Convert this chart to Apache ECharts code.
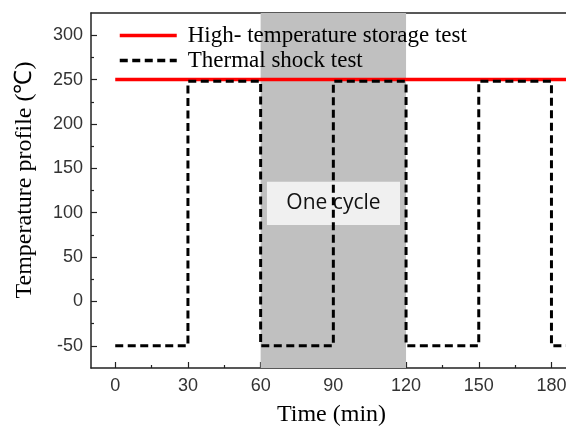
<!DOCTYPE html>
<html>
<head>
<meta charset="utf-8">
<script src="https://cdn.jsdelivr.net/npm/echarts@6/dist/echarts.min.js"></script>
<style>
  html, body { margin: 0; padding: 0; background: #fff; }
  #main { width: 566px; height: 426px; }
</style>
</head>
<body>
<div id="main"></div>
<script>
// tick values
var xTicks = [0, 30, 60, 90, 120, 150, 180];
var xMinor = [15, 45, 75, 105, 135, 165];
var yTicks = [-50, 0, 50, 100, 150, 200, 250, 300];
var yMinor = [-25, 25, 75, 125, 175, 225, 275];

// high-temperature storage: flat 250
var storageTime = [0, 190];
var storageTemp = [250, 250];

// thermal shock: square wave -50 / 250, 30 min steps
var shockTime = [0, 30, 30, 60, 60, 90, 90, 120, 120, 150, 150, 180, 180, 190];
var shockTemp = [-50, -50, 248, 248, -50, -50, 248, 248, -50, -50, 248, 248, -50, -50];

// one cycle band (min)
var cycle = [60, 120];

function pairs(xs, ys) {
    var out = [];
    for (var i = 0; i < xs.length; i++) out.push([xs[i], ys[i]]);
    return out;
}

var axisColor = '#222';
var labelFont = { color: '#333', fontSize: 18, fontFamily: 'Liberation Sans' };

var chart = echarts.init(document.getElementById('main'));
chart.setOption({
    animation: false,
    grid: { left: 91, right: 0, top: 13, bottom: 58, containLabel: false, outerBoundsMode: 'none' },
    legend: {
        orient: 'vertical',
        left: 113,
        top: 19,
        itemWidth: 57,
        itemHeight: 14,
        itemGap: 2,
        itemStyle: { opacity: 0 },
        lineStyle: { width: 3.5 },
        textStyle: { color: '#000', fontSize: 23, fontFamily: 'Liberation Serif', padding: [0, 0, 0, 6] },
        data: ['High- temperature storage test', 'Thermal shock test']
    },
    graphic: [{
        type: 'text',
        x: 25, y: 180,
        rotation: Math.PI / 2,
        style: {
            text: 'Temperature profile (\u2103)',
            fill: '#000', fontSize: 24, fontFamily: 'Liberation Serif',
            align: 'center', verticalAlign: 'middle'
        }
    }],
    xAxis: [{
        type: 'value', position: 'bottom', min: -10, max: 186,
        name: 'Time (min)', nameLocation: 'middle', nameGap: 35,
        nameTextStyle: { color: '#000', fontSize: 24, fontFamily: 'Liberation Serif', padding: [0, 0, 0, 6] },
        axisLine: { show: true, onZero: false, lineStyle: { color: axisColor, width: 1.5 } },
        axisTick: { show: true, inside: true, length: 6, customValues: xTicks, lineStyle: { color: axisColor, width: 1.2 } },
        axisLabel: Object.assign({ customValues: xTicks, margin: 9 }, labelFont),
        splitLine: { show: false }
    }, {
        type: 'value', position: 'bottom', min: -10, max: 186,
        axisLine: { show: false, onZero: false },
        axisTick: { show: true, inside: true, length: 3, customValues: xMinor, lineStyle: { color: axisColor, width: 1.2 } },
        axisLabel: { show: false },
        splitLine: { show: false }
    }, {
        type: 'value', position: 'top', min: -10, max: 186,
        axisLine: { show: true, onZero: false, lineStyle: { color: axisColor, width: 1.5 } },
        axisTick: { show: false },
        axisLabel: { show: false },
        splitLine: { show: false }
    }],
    yAxis: [{
        type: 'value', position: 'left', min: -75, max: 325,
        axisLine: { show: true, onZero: false, lineStyle: { color: axisColor, width: 1.5 } },
        axisTick: { show: true, inside: true, length: 6, customValues: yTicks, lineStyle: { color: axisColor, width: 1.2 } },
        axisLabel: Object.assign({ customValues: yTicks, margin: 8 }, labelFont),
        splitLine: { show: false }
    }, {
        type: 'value', position: 'left', min: -75, max: 325,
        axisLine: { show: false, onZero: false },
        axisTick: { show: true, inside: true, length: 3, customValues: yMinor, lineStyle: { color: axisColor, width: 1.2 } },
        axisLabel: { show: false },
        splitLine: { show: false }
    }],
    series: [{
        // gray band for one cycle
        type: 'line', data: [], z: 1, silent: true,
        markArea: {
            silent: true,
            itemStyle: { color: '#c0c0c0' },
            data: [[{ xAxis: cycle[0] }, { xAxis: cycle[1] }]]
        }
    }, {
        name: 'High- temperature storage test',
        type: 'line', z: 3,
        symbol: 'none',
        lineStyle: { color: '#ff0000', width: 3.5 },
        itemStyle: { color: '#ff0000' },
        data: pairs(storageTime, storageTemp)
    }, {
        name: 'Thermal shock test',
        type: 'line', z: 4,
        symbol: 'none',
        lineStyle: { color: '#000', width: 3, type: [8, 4.5] },
        itemStyle: { color: '#000' },
        data: pairs(shockTime, shockTemp)
    }, {
        // "One cycle" label box
        type: 'line', data: [], z: 6, silent: true,
        markArea: {
            silent: true,
            itemStyle: { color: '#f0f0f0' },
            label: {
                show: true, position: 'inside', color: '#111',
                fontSize: 21, fontFamily: 'Open Sans'
            },
            data: [[{ name: 'One cycle', xAxis: 62.6, yAxis: 135 }, { xAxis: 117.5, yAxis: 86 }]]
        }
    }]
});
</script>
</body>
</html>
